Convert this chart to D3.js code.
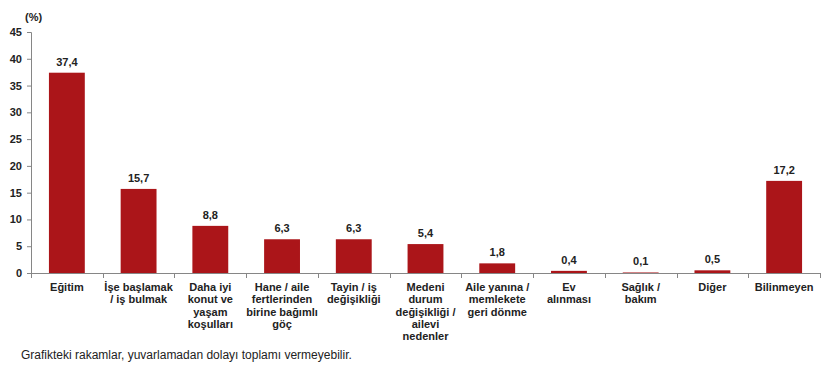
<!DOCTYPE html>
<html><head><meta charset="utf-8">
<script src="https://cdn.jsdelivr.net/npm/d3@7"></script>
<style>body{margin:0;background:#fff}text{font-family:"Liberation Sans",Arial,sans-serif}</style>
</head><body>
<svg id="c" width="834" height="370"></svg>
<script>
const categories = [
  ["Eğitim"],
  ["İşe başlamak","/ iş bulmak"],
  ["Daha iyi","konut ve","yaşam","koşulları"],
  ["Hane / aile","fertlerinden","birine bağımlı","göç"],
  ["Tayin / iş","değişikliği"],
  ["Medeni","durum","değişikliği /","ailevi","nedenler"],
  ["Aile yanına /","memlekete","geri dönme"],
  ["Ev","alınması"],
  ["Sağlık /","bakım"],
  ["Diğer"],
  ["Bilinmeyen"]
];
const values = [37.4, 15.7, 8.8, 6.3, 6.3, 5.4, 1.8, 0.4, 0.1, 0.5, 17.2];
const yTicks = [0,5,10,15,20,25,30,35,40,45];
const unitLabel = "(%)";
const footnote = "Grafikteki rakamlar, yuvarlamadan dolayı toplamı vermeyebilir.";

const svg = d3.select("#c");
const x0 = 31, x1 = 820, yTop = 32, yBot = 273;
const x = d3.scaleBand().domain(d3.range(values.length)).range([x0, x1]).paddingInner(0.5).paddingOuter(0.25);
const y = d3.scaleLinear().domain([0,45]).range([yBot, yTop]);
const axisColor = "#868686";

// y axis
const ya = svg.append("g").attr("transform",`translate(${x0},0)`)
  .call(d3.axisLeft(y).tickValues(yTicks).tickSize(4).tickPadding(5));
ya.select(".domain").attr("stroke",axisColor);
ya.selectAll(".tick line").attr("stroke",axisColor);
ya.selectAll(".tick text").attr("font-size",11).attr("font-weight","bold").attr("fill","#222").attr("font-family","Liberation Sans, Arial, sans-serif");

// bars
svg.append("g").selectAll("rect").data(values).join("rect")
  .attr("x",(d,i)=>x(i)).attr("width",x.bandwidth())
  .attr("y",d=>y(d)).attr("height",d=>yBot-y(d))
  .attr("fill","#ab1519");

// value labels
svg.append("g").selectAll("text").data(values).join("text")
  .attr("x",(d,i)=>x(i)+x.bandwidth()/2).attr("y",d=>y(d)-7)
  .attr("text-anchor","middle").attr("font-size",11).attr("font-weight","bold").attr("fill","#222")
  .text(d=>d3.format(".1f")(d).replace(".",","));

// x axis line and ticks between categories
const step = x.step();
const xa = svg.append("g");
xa.append("line").attr("x1",x0).attr("x2",x1).attr("y1",yBot+0.5).attr("y2",yBot+0.5).attr("stroke",axisColor);
xa.selectAll("line.t").data(d3.range(values.length+1)).join("line").attr("class","t")
  .attr("x1",i=>Math.round(x0+i*(x1-x0)/values.length)+0.5).attr("x2",i=>Math.round(x0+i*(x1-x0)/values.length)+0.5)
  .attr("y1",yBot).attr("y2",yBot+5).attr("stroke",axisColor);

// category labels
const cl = svg.append("g").selectAll("text").data(categories).join("text")
  .attr("text-anchor","middle").attr("font-size",11).attr("font-weight","bold").attr("fill","#222")
  .attr("transform",(d,i)=>`translate(${x(i)+x.bandwidth()/2},291)`);
cl.selectAll("tspan").data(d=>d).join("tspan").attr("x",0).attr("dy",(d,j)=>j?12.3:0).text(d=>d);

svg.append("text").attr("x",25).attr("y",21).attr("font-size",11).attr("font-weight","bold").attr("fill","#222").text(unitLabel);
svg.append("text").attr("x",21).attr("y",359).attr("font-size",12).attr("fill","#222").text(footnote);
</script>
</body></html>
